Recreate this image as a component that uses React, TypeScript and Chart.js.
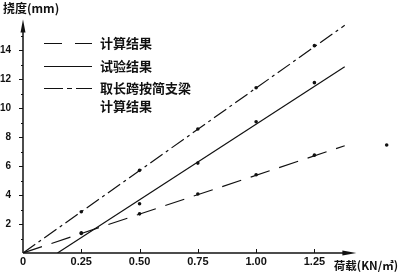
import React, { useEffect, useRef } from "react";
import { Chart, registerables } from "chart.js";

Chart.register(...registerables);

// measured loads (KN/m²)
const loads = [0.25, 0.5, 0.75, 1.0, 1.25];
// deflection values (mm)
const calcValues = [1.4, 2.7, 4.07, 5.4, 6.75];
const testValues = [1.35, 3.4, 6.2, 9.05, 11.75];
const simpleValues = [2.85, 5.7, 8.55, 11.4, 14.3];
// fitted straight lines (start / end)
const calcLineX = [0, 1.38];
const calcLineY = [0, 7.4];
const testLineX = [0.148, 1.38];
const testLineY = [0, 12.85];
const simpleLineX = [0, 1.38];
const simpleLineY = [0, 15.7];
// stray mark at the right
const strayX = [1.56];
const strayY = [7.45];

const xTicks = [0, 0.25, 0.5, 0.75, 1.0, 1.25];
const xTickLabels = ["0", "0.25", "0.50", "0.75", "1.00", "1.25"];
const yTicks = [2, 4, 6, 8, 10, 12, 14];

const legendNames = ["计算结果", "试验结果", "取长跨按简支梁", "计算结果"];
const yTitle = "挠度(mm)";
const xTitle = "荷载(KN/㎡)";

const INK = "#111";
const CJK = '"Noto Sans CJK SC", sans-serif';
const NUM = '"Liberation Sans", Arial, sans-serif';

const pts = (xs: number[], ys: number[]) => xs.map((x, i) => ({ x, y: ys[i] }));

const axesPlugin = {
  id: "customAxes",
  afterDraw(chart: any) {
    const ctx = chart.ctx as CanvasRenderingContext2D;
    const xs = chart.scales.x;
    const ys = chart.scales.y;
    const x0 = xs.getPixelForValue(0);
    const y0 = ys.getPixelForValue(0);
    ctx.save();
    ctx.strokeStyle = INK;
    ctx.fillStyle = INK;
    ctx.lineWidth = 1.5;
    ctx.setLineDash([]);
    // y axis
    const yTip = ys.getPixelForValue(16.1);
    ctx.beginPath();
    ctx.moveTo(x0, y0);
    ctx.lineTo(x0, yTip + 8);
    ctx.stroke();
    ctx.beginPath();
    ctx.moveTo(x0, yTip);
    ctx.lineTo(x0 - 2.5, yTip + 13);
    ctx.lineTo(x0 + 2.5, yTip + 13);
    ctx.closePath();
    ctx.fill();
    // x axis
    const xTip = xs.getPixelForValue(1.43);
    ctx.beginPath();
    ctx.moveTo(x0, y0);
    ctx.lineTo(xTip - 8, y0);
    ctx.stroke();
    ctx.beginPath();
    ctx.moveTo(xTip, y0);
    ctx.lineTo(xTip - 14, y0 - 2.5);
    ctx.lineTo(xTip - 14, y0 + 2.5);
    ctx.closePath();
    ctx.fill();
    // ticks
    ctx.lineWidth = 1;
    for (let v = 1; v <= 15; v++) {
      const py = Math.round(ys.getPixelForValue(v)) + 0.5;
      const len = v % 2 === 0 ? 4 : 2;
      ctx.beginPath();
      ctx.moveTo(x0 - len, py);
      ctx.lineTo(x0, py);
      ctx.stroke();
    }
    xTicks.slice(1).forEach((v) => {
      const px = Math.round(xs.getPixelForValue(v)) + 0.5;
      ctx.beginPath();
      ctx.moveTo(px, y0);
      ctx.lineTo(px, y0 - 4);
      ctx.stroke();
    });
    // titles
    ctx.font = `bold 12px ${CJK}`;
    ctx.textBaseline = "middle";
    ctx.textAlign = "left";
    ctx.fillText(yTitle, 3, 8);
    ctx.textAlign = "right";
    ctx.font = `bold 11.5px ${CJK}`;
    ctx.fillText(xTitle, 398, 266);
    // legend
    const lx1 = 44;
    const lx2 = 92;
    const rows = [43, 66, 88];
    const dashes = [[18, 13], [], [19, 4, 5, 4]];
    ctx.lineWidth = 1.2;
    rows.forEach((ry, i) => {
      ctx.setLineDash(dashes[i]);
      ctx.beginPath();
      ctx.moveTo(lx1, ry + 0.5);
      ctx.lineTo(lx2, ry + 0.5);
      ctx.stroke();
    });
    ctx.setLineDash([]);
    ctx.textAlign = "left";
    ctx.font = `bold 13px ${CJK}`;
    const textRows = [43, 66, 88, 106];
    legendNames.forEach((t, i) => ctx.fillText(t, 100, textRows[i]));
    ctx.restore();
  },
};

export default function App() {
  const ref = useRef<HTMLCanvasElement | null>(null);
  useEffect(() => {
    if (!ref.current) return;
    const lineDs = (xs: number[], ys: number[], dash: number[]) => ({
      data: pts(xs, ys),
      showLine: true,
      borderColor: INK,
      borderWidth: 1.2,
      borderDash: dash,
      pointRadius: 0,
      fill: false,
    });
    const dotDs = (xs: number[], ys: number[]) => ({
      data: pts(xs, ys),
      showLine: false,
      backgroundColor: INK,
      borderColor: INK,
      borderWidth: 0,
      pointRadius: 1.8,
    });
    const chart = new Chart(ref.current, {
      type: "scatter",
      data: {
        datasets: [
          lineDs(calcLineX, calcLineY, [20, 10]),
          lineDs(testLineX, testLineY, []),
          lineDs(simpleLineX, simpleLineY, [15, 4, 3, 4]),
          dotDs(loads, calcValues),
          dotDs(loads, testValues),
          dotDs(loads, simpleValues),
          dotDs(strayX, strayY),
        ] as any,
      },
      options: {
        animation: false,
        responsive: false,
        layout: { padding: { top: 21, right: 1, left: 0, bottom: 0 } },
        plugins: { legend: { display: false }, tooltip: { enabled: false } },
        scales: {
          x: {
            type: "linear",
            min: 0,
            max: 1.6,
            grid: { display: false },
            border: { display: false },
            afterBuildTicks: (s: any) => {
              s.ticks = xTicks.map((v) => ({ value: v }));
            },
            afterFit: (s: any) => {
              s.height = 22;
            },
            ticks: {
              padding: -6,
              color: INK,
              font: { family: NUM, size: 11, weight: "bold" },
              callback: (v: any) => {
                const i = xTicks.indexOf(Number(v));
                return i >= 0 ? xTickLabels[i] : "";
              },
            },
          },
          y: {
            type: "linear",
            min: 0,
            max: 16,
            grid: { display: false },
            border: { display: false },
            afterBuildTicks: (s: any) => {
              s.ticks = yTicks.map((v) => ({ value: v }));
            },
            afterFit: (s: any) => {
              s.width = 23;
            },
            ticks: {
              padding: 4,
              color: INK,
              font: { family: NUM, size: 10, weight: "bold" },
              callback: (v: any) => String(v),
            },
          },
        },
      },
      plugins: [axesPlugin],
    });
    return () => chart.destroy();
  }, []);
  return (
    <div style={{ position: "fixed", left: 0, top: 0, width: 400, height: 275, background: "#fff" }}>
      <canvas ref={ref} width={400} height={275} />
    </div>
  );
}
